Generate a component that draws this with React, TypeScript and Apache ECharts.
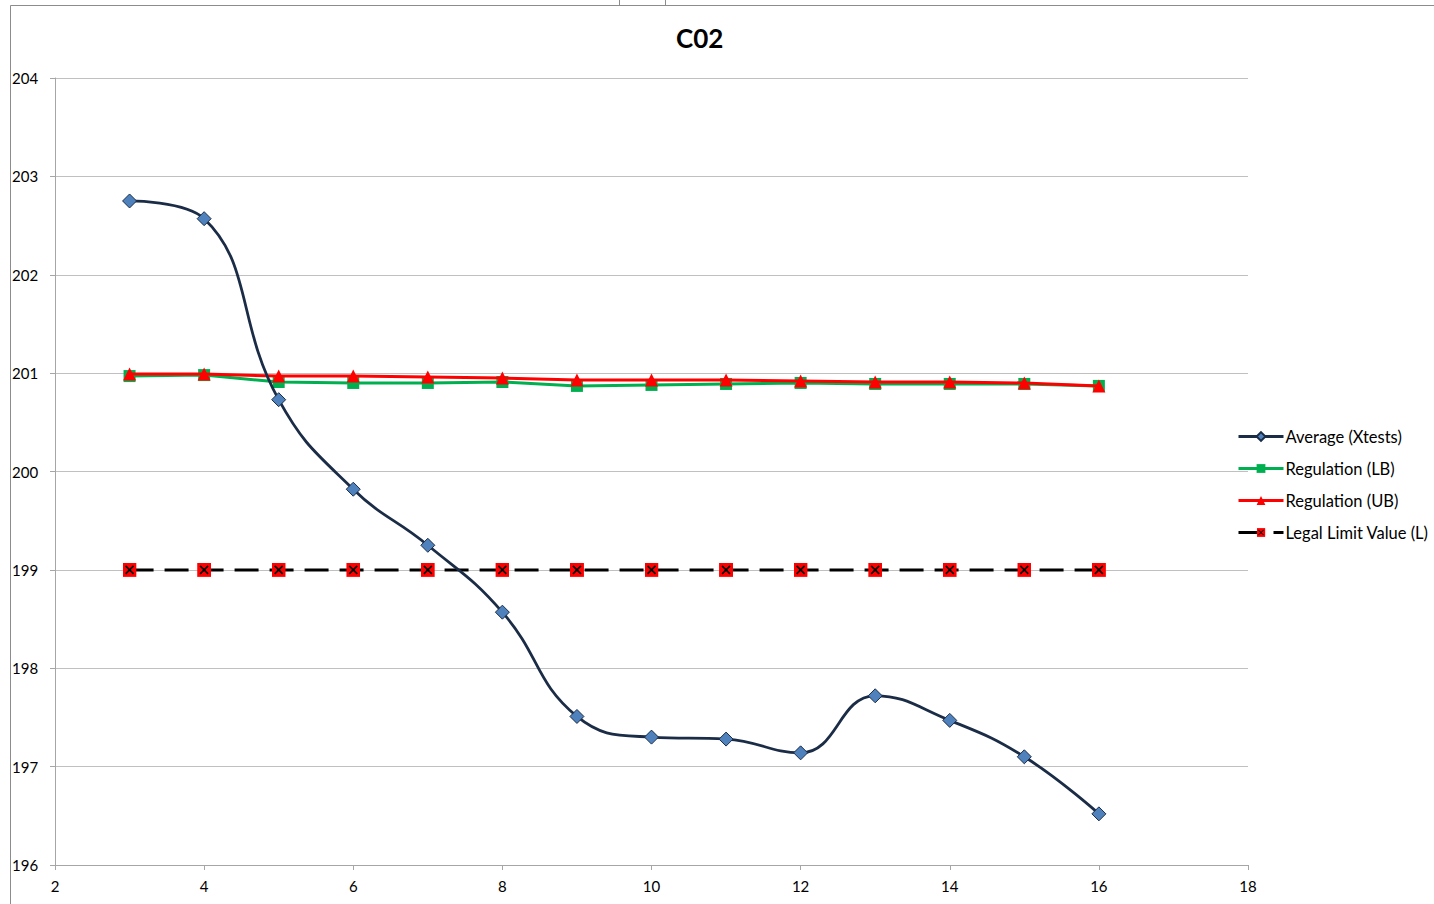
import React, { useEffect, useRef } from "react";
import * as echarts from "echarts";

const xValues = [3, 4, 5, 6, 7, 8, 9, 10, 11, 12, 13, 14, 15, 16];
const averageX = [202.75, 202.57, 200.73, 199.82, 199.25, 198.57, 197.51, 197.3, 197.28, 197.14, 197.72, 197.47, 197.1, 196.52];
const regulationLB = [200.97, 200.98, 200.91, 200.9, 200.9, 200.91, 200.87, 200.88, 200.89, 200.9, 200.89, 200.89, 200.89, 200.87];
const regulationUB = [200.99, 200.99, 200.97, 200.97, 200.96, 200.95, 200.93, 200.93, 200.93, 200.92, 200.91, 200.91, 200.9, 200.87];
const legalLimit = [199, 199, 199, 199, 199, 199, 199, 199, 199, 199, 199, 199, 199, 199];
const seriesNames = ["Average (Xtests)", "Regulation (LB)", "Regulation (UB)", "Legal Limit Value (L)"];

const FONT = "Lato, 'Open Sans', sans-serif";

const xMarkSvg =
  "<svg xmlns='http://www.w3.org/2000/svg' width='14' height='14'><rect x='0' y='0' width='14' height='14' fill='#ff0000'/><path d='M3 3L11 11M11 3L3 11' stroke='#000' stroke-width='1.6'/></svg>";
const xMarkSymbol = "image://data:image/svg+xml;charset=utf-8," + encodeURIComponent(xMarkSvg);

const pairs = (ys: number[]) => xValues.map((x, i) => [x, ys[i]]);

export default function App() {
  const ref = useRef<HTMLDivElement>(null);
  useEffect(() => {
    if (!ref.current) return;
    const chart = echarts.init(ref.current, null, { renderer: "svg" });
    chart.setOption({
      animation: false,
      backgroundColor: "#ffffff",
      title: {
        text: "C02",
        left: 671,
        top: 20,
        textStyle: { fontFamily: FONT, fontSize: 26, fontWeight: "bold", color: "#000" },
      },
      legend: {
        orient: "vertical",
        left: 1232,
        top: 423,
        itemWidth: 45,
        itemHeight: 11,
        itemGap: 15,
        data: [
          { name: seriesNames[0], lineStyle: { width: 3 } },
          { name: seriesNames[1], lineStyle: { width: 3 } },
          { name: seriesNames[2], lineStyle: { width: 3 } },
          { name: seriesNames[3], lineStyle: { width: 3 } },
        ],
        textStyle: { fontFamily: FONT, fontSize: 16.5, color: "#000", padding: [0, 0, 0, -3] },
      },
      grid: { left: 55, right: 186, top: 78, bottom: 39, containLabel: false },
      xAxis: {
        type: "value",
        min: 2,
        max: 18,
        interval: 2,
        axisLine: { show: true, lineStyle: { color: "#a6a6a6", width: 1 } },
        axisTick: { show: true, length: 5, lineStyle: { color: "#a6a6a6" } },
        axisLabel: { fontFamily: FONT, fontSize: 15, color: "#000", margin: 13 },
        splitLine: { show: false },
      },
      yAxis: {
        type: "value",
        min: 196,
        max: 204,
        interval: 1,
        axisLine: { show: true, lineStyle: { color: "#a6a6a6", width: 1 } },
        axisTick: { show: true, length: 5, lineStyle: { color: "#a6a6a6" } },
        axisLabel: { fontFamily: FONT, fontSize: 15, color: "#000", margin: 43, align: "left" },
        splitLine: { show: true, lineStyle: { color: "#c0c0c0", width: 1 } },
      },
      series: [
        {
          name: seriesNames[0],
          type: "line",
          data: pairs(averageX),
          smooth: 0.45,
          symbol: "diamond",
          symbolSize: 14,
          lineStyle: { color: "#1b2c47", width: 2.8 },
          itemStyle: { color: "#4f81bd", borderColor: "#1b2c47", borderWidth: 1 },
          z: 5,
        },
        {
          name: seriesNames[1],
          type: "line",
          data: pairs(regulationLB),
          symbol: "rect",
          symbolSize: 12,
          lineStyle: { color: "#00b050", width: 3 },
          itemStyle: { color: "#00b050" },
          z: 3,
        },
        {
          name: seriesNames[2],
          type: "line",
          data: pairs(regulationUB),
          symbol: "triangle",
          symbolSize: 13,
          lineStyle: { color: "#ff0000", width: 3 },
          itemStyle: { color: "#ff0000" },
          z: 4,
        },
        {
          name: seriesNames[3],
          type: "line",
          data: pairs(legalLimit),
          symbol: xMarkSymbol,
          symbolSize: 14,
          lineStyle: { color: "#000000", width: 3, type: [24, 11] },
          itemStyle: { color: "#ff0000" },
          z: 2,
        },
      ],
      graphic: [
        { type: "line", shape: { x1: 10.5, y1: 5.5, x2: 1434, y2: 5.5 }, style: { stroke: "#8c8c8c", lineWidth: 1 } },
        { type: "line", shape: { x1: 10.5, y1: 5.5, x2: 10.5, y2: 904 }, style: { stroke: "#8c8c8c", lineWidth: 1 } },
        { type: "line", shape: { x1: 619.5, y1: 0, x2: 619.5, y2: 5 }, style: { stroke: "#8c8c8c", lineWidth: 1 } },
        { type: "line", shape: { x1: 665.5, y1: 0, x2: 665.5, y2: 5 }, style: { stroke: "#8c8c8c", lineWidth: 1 } },
      ],
    });
    return () => chart.dispose();
  }, []);
  return <div ref={ref} style={{ width: 1434, height: 904, position: "fixed", left: 0, top: 0 }} />;
}
